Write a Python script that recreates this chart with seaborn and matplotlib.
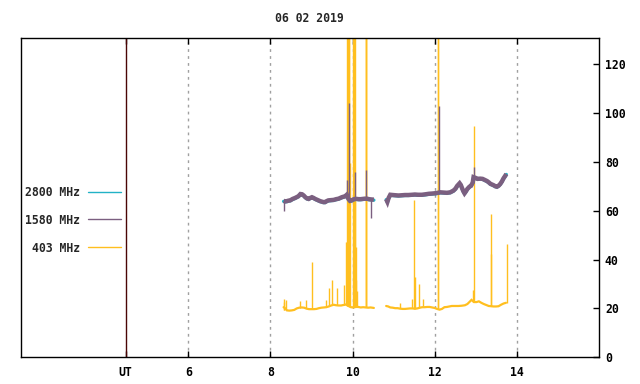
import numpy as np
import pandas as pd
import matplotlib
matplotlib.use('Agg')
import matplotlib.pyplot as plt
from matplotlib.lines import Line2D
import seaborn as sns

# 标题和图例
title = '06 02 2019'
legend_labels = ['2800 MHz', '1580 MHz', '403 MHz']
colors = {'2800 MHz': '#22b2c6', '1580 MHz': '#7b5f80', '403 MHz': '#ffbf1f'}

x_ticks = [4.47, 6, 8, 10, 12, 14]
x_tick_labels = ['UT', '6', '8', '10', '12', '14']
y_ticks = [0, 20, 40, 60, 80, 100, 120]

# 1580 MHz 的基线 (时间 UT, 流量), 两段, 中间有断档
t1580_a = [8.32, 8.36, 8.40, 8.44, 8.48, 8.54, 8.60, 8.68, 8.73, 8.77, 8.81, 8.85, 8.89,
           8.93, 8.97, 9.01, 9.05, 9.09, 9.13, 9.17, 9.21, 9.25, 9.29, 9.33, 9.37, 9.41,
           9.47, 9.54, 9.60, 9.66, 9.70, 9.74, 9.78, 9.82, 9.86, 9.90, 9.94, 9.98, 10.02,
           10.06, 10.10, 10.15, 10.20, 10.25, 10.30, 10.35, 10.40, 10.45, 10.52]
v1580_a = [64.0, 63.8, 63.9, 64.1, 64.2, 64.8, 65.2, 65.9, 66.8, 66.7, 66.2, 65.5, 65.0,
           64.8, 65.2, 65.5, 65.2, 64.8, 64.5, 64.2, 63.9, 63.7, 63.5, 63.5, 63.9, 64.2,
           64.3, 64.4, 64.7, 64.9, 65.2, 65.5, 65.7, 65.9, 66.5, 64.8, 64.0, 64.2, 64.6,
           64.8, 64.8, 64.7, 64.7, 64.8, 64.9, 64.9, 64.7, 64.6, 64.5]
t1580_b = [10.82, 10.85, 10.88, 10.92, 10.98, 11.05, 11.12, 11.20, 11.28, 11.36, 11.45,
           11.52, 11.60, 11.69, 11.78, 11.86, 11.94, 12.00, 12.05, 12.14, 12.22, 12.30,
           12.38, 12.46, 12.51, 12.55, 12.61, 12.64, 12.67, 12.70, 12.73, 12.76, 12.80,
           12.85, 12.89, 12.93, 12.95, 13.00, 13.05, 13.11, 13.17, 13.22, 13.28, 13.32,
           13.36, 13.40, 13.44, 13.48, 13.52, 13.56, 13.60, 13.64, 13.68, 13.72, 13.75]
v1580_b = [64.7, 63.6, 65.2, 66.5, 66.4, 66.3, 66.2, 66.3, 66.4, 66.4, 66.5,
           66.6, 66.5, 66.5, 66.7, 66.9, 67.0, 67.1, 67.2, 67.5, 67.4, 67.3,
           67.5, 68.2, 69.0, 70.1, 71.2, 70.5, 69.2, 68.0, 67.1, 67.8, 68.9,
           69.8, 70.2, 71.5, 73.7, 73.4, 73.0, 73.1, 73.0, 72.6, 72.1, 71.6,
           71.0, 70.7, 70.4, 70.0, 69.8, 70.2, 70.9, 71.9, 73.2, 74.2, 75.0]

# 2800 MHz 几乎被 1580 MHz 完全盖住
v2800_a = [63.8, 63.6, 63.7, 63.9, 64.0, 64.6, 65.0, 65.7, 66.6, 66.5, 66.0, 65.3, 64.8,
           64.6, 65.0, 65.3, 65.0, 64.6, 64.3, 64.0, 63.7, 63.5, 63.3, 63.3, 63.7, 64.0,
           64.1, 64.2, 64.5, 64.7, 65.0, 65.3, 65.5, 65.7, 66.3, 64.6, 63.8, 64.0, 64.4,
           64.6, 64.6, 64.5, 64.5, 64.6, 64.7, 64.7, 64.5, 64.4, 64.3]
v2800_b = [64.5, 63.4, 65.0, 66.3, 66.2, 66.1, 66.0, 66.1, 66.2, 66.2, 66.3,
           66.4, 66.3, 66.3, 66.5, 66.7, 66.8, 66.9, 67.0, 67.3, 67.2, 67.1,
           67.3, 68.0, 68.8, 69.9, 71.0, 70.3, 69.0, 67.8, 66.9, 67.6, 68.7,
           69.6, 70.0, 71.3, 73.5, 73.2, 72.8, 72.9, 72.8, 72.4, 71.9, 71.4,
           70.8, 70.5, 70.2, 69.8, 69.6, 70.0, 70.7, 71.7, 73.0, 74.0, 74.8]

# 1580 MHz 的尖峰 (时间, 下端, 上端)
spike1580_t = [8.32, 9.86, 9.91, 10.05, 10.33, 10.44, 12.10, 12.95]
spike1580_lo = [60.0, 66.0, 64.8, 64.8, 64.9, 57.0, 67.3, 73.0]
spike1580_hi = [64.0, 72.6, 104.0, 76.0, 76.7, 64.6, 103.0, 78.0]

# 403 MHz 的基线
t403_a = [8.32, 8.36, 8.40, 8.46, 8.52, 8.58, 8.64, 8.70, 8.76, 8.82, 8.88, 8.94, 9.00,
          9.06, 9.12, 9.18, 9.24, 9.30, 9.36, 9.42, 9.48, 9.54, 9.60, 9.66, 9.72, 9.78,
          9.84, 9.90, 9.96, 10.02, 10.08, 10.14, 10.20, 10.26, 10.32, 10.38, 10.44, 10.52]
v403_a = [20.5, 20.0, 19.2, 19.1, 19.2, 19.4, 20.0, 20.3, 20.4, 20.3, 19.9, 19.7, 19.7,
          19.7, 19.8, 20.1, 20.3, 20.4, 20.5, 20.8, 21.2, 21.5, 21.3, 21.2, 21.2, 21.4,
          21.6, 21.0, 20.5, 20.4, 20.6, 20.6, 20.4, 20.5, 20.4, 20.3, 20.4, 20.2]
t403_b = [10.82, 10.87, 10.92, 10.98, 11.04, 11.10, 11.16, 11.22, 11.28, 11.34, 11.40,
          11.46, 11.52, 11.58, 11.64, 11.70, 11.76, 11.82, 11.88, 11.94, 12.00, 12.06,
          12.12, 12.18, 12.24, 12.30, 12.36, 12.42, 12.50, 12.58, 12.66, 12.74, 12.80,
          12.86, 12.90, 12.96, 13.02, 13.08, 13.14, 13.20, 13.26, 13.32, 13.38, 13.44,
          13.50, 13.56, 13.62, 13.68, 13.74]
v403_b = [21.0, 20.8, 20.4, 20.3, 20.1, 20.1, 19.9, 19.8, 19.8, 19.9, 20.0,
          20.0, 19.9, 20.0, 20.3, 20.5, 20.5, 20.6, 20.6, 20.4, 20.2, 19.8,
          19.5, 19.8, 20.5, 20.6, 20.8, 21.0, 21.0, 21.0, 21.1, 21.3, 21.8,
          22.8, 23.5, 22.6, 22.6, 22.9, 22.3, 21.8, 21.4, 21.0, 20.9, 20.8,
          20.8, 20.9, 21.5, 22.0, 22.3]

# 403 MHz 的尖峰 (时间, 下端, 上端), 上端超出坐标范围的会被裁掉
spike403_t = [8.32, 8.34, 8.38, 8.72, 8.87, 9.00, 9.36, 9.42, 9.51, 9.63, 9.80,
              9.845, 9.855, 9.875, 9.885, 9.895, 9.905, 9.915, 9.94,
              10.02, 10.03, 10.04, 10.05, 10.07, 10.08, 10.09, 10.11,
              10.32, 10.33, 10.34, 11.15, 11.46, 11.51, 11.52, 11.63, 11.73,
              12.085, 12.095, 12.94, 12.95, 13.37, 13.38, 13.76]
spike403_lo = [19.5, 19.5, 19.5, 20.0, 20.0, 19.7, 20.5, 20.8, 21.5, 21.3, 21.4,
               21.5, 21.5, 21.0, 21.0, 21.0, 21.0, 21.0, 20.5,
               20.4, 20.4, 20.4, 20.4, 20.6, 20.6, 20.6, 20.6,
               20.4, 20.4, 20.4, 20.0, 20.0, 19.9, 19.9, 20.3, 20.5,
               19.8, 19.8, 22.6, 22.6, 20.9, 20.9, 22.3]
spike403_hi = [23.7, 22.6, 23.3, 22.9, 23.3, 39.0, 23.6, 28.3, 31.5, 28.3, 29.4,
               47.0, 47.0, 140, 140, 140, 140, 140, 79.5,
               140, 140, 140, 140, 64.0, 45.0, 31.5, 27.0,
               140, 140, 140, 22.2, 24.0, 64.3, 33.0, 29.9, 23.7,
               140, 140, 27.4, 94.7, 58.6, 42.2, 46.3]


def build_df(t_a, v_a, t_b, v_b):
    """
    把两段数据拼成一个 DataFrame, 用 seg 列区分, 避免连线跨过断档
    """
    df_a = pd.DataFrame({'time': t_a, 'flux': v_a, 'seg': 0})
    df_b = pd.DataFrame({'time': t_b, 'flux': v_b, 'seg': 1})
    return pd.concat([df_a, df_b], ignore_index=True)


def main():
    sns.set_style('white')
    plt.rcParams['font.family'] = ['DejaVu Sans Mono']
    plt.rcParams['font.weight'] = 'bold'
    plt.rcParams['font.size'] = 8.3

    fig = plt.figure(figsize=(6.4, 3.84), dpi=100)
    ax = fig.add_axes([0.0323, 0.0695, 0.9031, 0.8307])

    df403 = build_df(t403_a, v403_a, t403_b, v403_b)
    df2800 = build_df(t1580_a, v2800_a, t1580_b, v2800_b)
    df1580 = build_df(t1580_a, v1580_a, t1580_b, v1580_b)

    # 403 MHz 先画, 1580 MHz 盖在上面
    sns.lineplot(data=df403, x='time', y='flux', units='seg', estimator=None, sort=False,
                 color=colors['403 MHz'], lw=1.6, solid_joinstyle='miter', ax=ax)
    ax.vlines(spike403_t, spike403_lo, spike403_hi, color=colors['403 MHz'], lw=1.0)

    sns.lineplot(data=df2800, x='time', y='flux', units='seg', estimator=None, sort=False,
                 color=colors['2800 MHz'], lw=2.4, ax=ax)
    sns.lineplot(data=df1580, x='time', y='flux', units='seg', estimator=None, sort=False,
                 color=colors['1580 MHz'], lw=3.2, solid_joinstyle='miter',
                 solid_capstyle='butt', ax=ax)
    ax.vlines(spike1580_t, spike1580_lo, spike1580_hi, color=colors['1580 MHz'], lw=1.0)

    # 网格和 UT 竖线
    for xt in x_ticks[1:]:
        ax.axvline(xt, color='#a0a0a0', lw=1.0, ls=(0, (2, 3)), zorder=0)
    ax.axvline(x_ticks[0], color='#4a0505', lw=1.0)

    ax.set_xlim(1.91, 16.0)
    ax.set_ylim(0, 130.5)
    ax.set_xticks(x_ticks)
    ax.set_xticklabels(x_tick_labels)
    ax.set_yticks(y_ticks)
    ax.set_xlabel('')
    ax.set_ylabel('')

    ax.tick_params(axis='x', direction='in', length=4, width=1, top=True, bottom=True,
                   pad=6.5, colors='black')
    ax.yaxis.tick_right()
    ax.tick_params(axis='y', direction='in', length=4, width=1, right=True, left=False,
                   labelright=True, labelleft=False, pad=4.5, colors='black')
    for sp in ax.spines.values():
        sp.set_visible(True)
        sp.set_color('black')
        sp.set_linewidth(1.0)

    # 图例放在左侧空白处
    handles = [Line2D([], [], color=colors[lab], lw=1.0) for lab in legend_labels]
    fig.legend(handles, legend_labels, loc='center right', bbox_to_anchor=(0.1886, 0.427),
               frameon=False, markerfirst=False, handlelength=2.81, handletextpad=0.72,
               labelspacing=1.3, borderpad=0, borderaxespad=0)

    fig.text(0.484, 0.953, title, ha='center', va='center')

    plt.savefig('out.png', dpi=100)


if __name__ == '__main__':
    main()
